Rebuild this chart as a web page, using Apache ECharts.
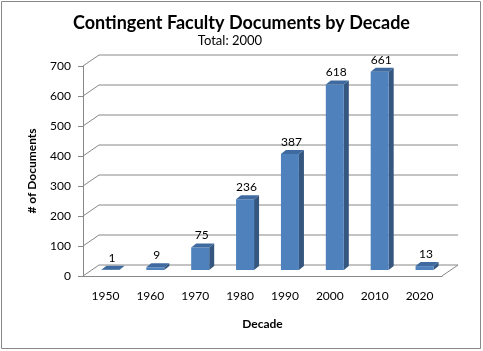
<!DOCTYPE html>
<html>
<head>
<meta charset="utf-8">
<script src="https://cdn.jsdelivr.net/npm/echarts@6/dist/echarts.min.js"></script>
<style>
html, body { margin: 0; padding: 0; background: #fff; }
#chart { width: 483px; height: 351px; }
</style>
</head>
<body>
<div id="chart"></div>
<script>
// 数据
const decades = ['1950', '1960', '1970', '1980', '1990', '2000', '2010', '2020'];
const docCounts = [1, 9, 75, 236, 387, 618, 661, 13];
const yTicks = [0, 100, 200, 300, 400, 500, 600, 700];

// 3D 偏移 (背墙 / 柱子)
const wallDx = 16, wallDy = -11;
const barDx = 5, barDy = -6;
const depthX = 5, depthY = -4;
const halfW = 9;

const font = 'Lato, "Open Sans", sans-serif';
const gray = '#888888';

const chart = echarts.init(document.getElementById('chart'));

chart.setOption({
    backgroundColor: '#fff',
    animation: false,
    title: [
        {
            text: 'Contingent Faculty Documents by Decade',
            left: 'center',
            top: 9,
            textStyle: { fontFamily: font, fontSize: 18, fontWeight: 'bold', color: '#000' },
        },
        {
            text: 'Total: 2000',
            left: 225,
            textAlign: 'center',
            top: 29,
            textStyle: { fontFamily: font, fontSize: 13, fontWeight: 'normal', color: '#000' },
        },
    ],
    graphic: [
        {
            type: 'rect',
            shape: { x: 1.5, y: 1.5, width: 479, height: 347 },
            style: { fill: null, stroke: gray, lineWidth: 1 },
        },
    ],
    grid: { left: 83, right: 41, top: 66, bottom: 75 },
    xAxis: {
        type: 'category',
        data: decades,
        name: 'Decade',
        nameLocation: 'middle',
        nameGap: 42,
        nameTextStyle: { fontFamily: font, fontSize: 12, fontWeight: 'bold', color: '#000' },
        axisLine: { lineStyle: { color: gray } },
        axisTick: { length: 5, lineStyle: { color: gray } },
        axisLabel: { fontFamily: font, fontSize: 12, color: '#000', margin: 14 },
        splitLine: { show: false },
    },
    yAxis: {
        type: 'value',
        min: 0,
        max: 700,
        interval: 100,
        name: '# of Documents',
        nameLocation: 'middle',
        nameGap: 45,
        nameRotate: 90,
        nameTextStyle: { fontFamily: font, fontSize: 12, fontWeight: 'bold', color: '#000' },
        axisLine: { show: true, lineStyle: { color: gray } },
        axisTick: { show: true, length: 5, lineStyle: { color: gray } },
        axisLabel: { fontFamily: font, fontSize: 12, color: '#000', margin: 12 },
        splitLine: { show: false },
    },
    series: [
        // 背墙网格线 + 斜线
        {
            type: 'custom',
            silent: true,
            z: 1,
            data: yTicks.map((v) => [0, v]),
            renderItem(params, api) {
                const cs = params.coordSys;
                const y = api.coord([0, api.value(1)])[1];
                const children = [
                    {
                        type: 'polyline',
                        shape: {
                            points: [
                                [cs.x, y],
                                [cs.x + wallDx, y + wallDy],
                                [cs.x + cs.width + wallDx, y + wallDy],
                            ],
                        },
                        style: { stroke: gray, lineWidth: 1, fill: null },
                    },
                ];
                if (api.value(1) === 0) {
                    children.push({
                        type: 'line',
                        shape: {
                            x1: cs.x + cs.width, y1: y,
                            x2: cs.x + cs.width + wallDx, y2: y + wallDy,
                        },
                        style: { stroke: gray, lineWidth: 1 },
                    });
                }
                return { type: 'group', children };
            },
        },
        // 3D 柱子
        {
            type: 'custom',
            z: 5,
            data: docCounts.map((v, i) => [i, v]),
            renderItem(params, api) {
                const i = api.value(0);
                const v = api.value(1);
                const base = api.coord([i, 0]);
                const top = api.coord([i, v]);
                const c = base[0] + barDx;
                const yb = base[1] + barDy;
                const yt = top[1] + barDy;
                const l = c - halfW, r = c + halfW;
                return {
                    type: 'group',
                    children: [
                        {
                            type: 'polygon',
                            shape: { points: [[r, yt], [r + depthX, yt + depthY], [r + depthX, yb + depthY], [r, yb]] },
                            style: { fill: '#34567f' },
                        },
                        {
                            type: 'rect',
                            shape: { x: l, y: yt, width: r - l, height: yb - yt },
                            style: { fill: '#4f81bd' },
                        },
                        {
                            type: 'polygon',
                            shape: { points: [[l, yt], [l + depthX, yt + depthY], [r + depthX, yt + depthY], [r, yt]] },
                            style: { fill: '#3e6a9f' },
                        },
                        {
                            type: 'text',
                            x: c + depthX / 2 - 1,
                            y: yt - 12,
                            style: {
                                text: String(v),
                                fill: '#000',
                                font: '12px ' + font,
                                align: 'center',
                                verticalAlign: 'middle',
                            },
                        },
                    ],
                };
            },
        },
    ],
});
</script>
</body>
</html>
